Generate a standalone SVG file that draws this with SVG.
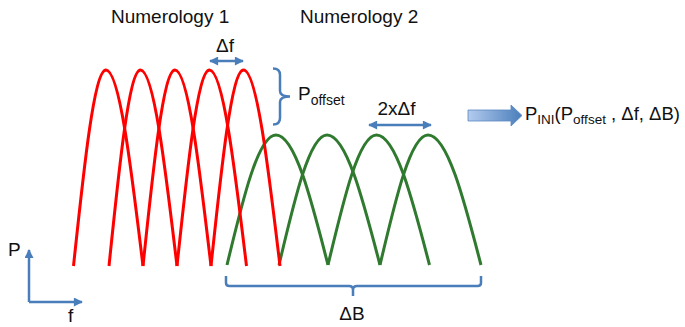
<svg xmlns="http://www.w3.org/2000/svg" width="685" height="327" viewBox="0 0 685 327">
  <style>
    .red { fill: none; stroke: #ff0000; stroke-width: 3; }
    .green { fill: none; stroke: #2f7a2f; stroke-width: 3; }
    .blue { fill: none; stroke: #4a7ebb; stroke-width: 2.5; }
    .lbl { font-family: "Liberation Sans", Arial, sans-serif; font-size: 19px; fill: #111; }
    .sub { font-size: 14px; }
  </style>
  <defs>
    <marker id="ah" viewBox="0 0 10 10" refX="9" refY="5" markerUnits="userSpaceOnUse" markerWidth="10" markerHeight="9" orient="auto-start-reverse">
      <path d="M0,0 L10,5 L0,10 z" fill="#4a7ebb"/>
    </marker>
    <linearGradient id="bg" x1="0" y1="0" x2="1" y2="0">
      <stop offset="0" stop-color="#b3cbee"/>
      <stop offset="1" stop-color="#4a7ebb"/>
    </linearGradient>
  </defs>

  <g id="numerology2-curves">
    <path class="green" d="M227,265 C242.95,198.6 258.26,135 276,135 C294.82,135 311.07,198.6 328,265"/>
    <path class="green" d="M279,265 C294.62,198.6 309.62,135 327,135 C346.19,135 362.75,198.6 380,265"/>
    <path class="green" d="M328,265 C343.79,198.6 358.94,135 376.5,135 C395.69,135 412.25,198.6 429.5,265"/>
    <path class="green" d="M380,265 C395.62,198.6 410.62,135 428,135 C447.19,135 463.75,198.6 481,265"/>
  </g>

  <g id="numerology1-curves">
    <path class="red" d="M73.5,266 C84.08,165.8 94.24,70 106,70 C119.39,70 130.96,165.8 143,266"/>
    <path class="red" d="M109,266 C119.25,165.8 129.1,70 140.5,70 C153.71,70 165.12,165.8 177,266"/>
    <path class="red" d="M143,266 C153.42,165.8 163.42,70 175,70 C188.03,70 199.28,165.8 211,266"/>
    <path class="red" d="M177,266 C187.58,165.8 197.74,70 209.5,70 C222.89,70 234.46,165.8 246.5,266"/>
    <path class="red" d="M211,266 C221.58,165.8 231.74,70 243.5,70 C256.71,70 268.12,165.8 280,266"/>
  </g>

  <g id="connectors">
    <line id="axis-p" class="blue" x1="29" y1="302" x2="29" y2="250" marker-end="url(#ah)"/>
    <line id="axis-f" class="blue" x1="29" y1="302" x2="82" y2="302" marker-end="url(#ah)"/>
    <line id="arrow-df" class="blue" x1="210" y1="61" x2="243" y2="61" marker-start="url(#ah)" marker-end="url(#ah)"/>
    <line id="arrow-2df" class="blue" x1="369" y1="125" x2="431" y2="125" marker-start="url(#ah)" marker-end="url(#ah)"/>
    <path id="brace-poffset" class="blue" d="M273,68.5 Q280,68.5 280,75 L280,91 Q280,96.5 290,96.5 Q280,96.5 280,102 L280,118 Q280,124.5 273,124.5"/>
    <path id="brace-db" class="blue" d="M226,276 L226,283 Q226,286 229.5,286 L349,286 Q353,286 353,290 L353,296 M353,290 Q353,286 357,286 L477.5,286 Q481,286 481,283 L481,276"/>
    <path id="block-arrow" d="M468,110 L511,110 L511,105 L522,115.5 L511,126 L511,121 L468,121 Z" fill="url(#bg)" stroke="#5b88c2" stroke-width="0.8"/>
  </g>

  <g id="labels">
    <text id="t-num1" class="lbl" x="111" y="23">Numerology 1</text>
    <text id="t-num2" class="lbl" x="300" y="23">Numerology 2</text>
    <text id="t-df" class="lbl" x="225" y="52" text-anchor="middle">Δf</text>
    <text id="t-poffset" class="lbl" x="298" y="100">P<tspan class="sub" dy="5">offset</tspan></text>
    <text id="t-2df" class="lbl" x="396.5" y="115" text-anchor="middle">2xΔf</text>
    <text id="t-pini" class="lbl" x="525" y="120" style="font-size:18.5px">P<tspan dy="4" style="font-size:13.5px">INI</tspan><tspan dy="-4">(P</tspan><tspan dy="4" style="font-size:13.5px">offset</tspan><tspan dy="-4"> , Δf, ΔB)</tspan></text>
    <text id="t-p" class="lbl" x="8" y="256">P</text>
    <text id="t-f" class="lbl" x="68" y="322">f</text>
    <text id="t-db" class="lbl" x="352" y="320" text-anchor="middle">ΔB</text>
  </g>
</svg>
